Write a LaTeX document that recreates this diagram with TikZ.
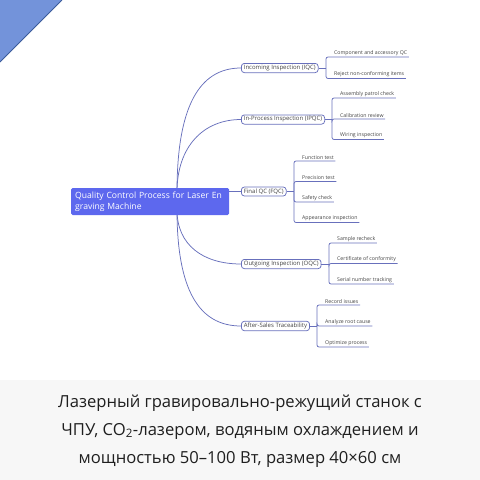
\documentclass[tikz,border=0pt]{standalone}
\usepackage{fontspec}
\setmainfont{Open Sans}
\usetikzlibrary{positioning,backgrounds}

\definecolor{mline}{HTML}{6870BC}
\definecolor{rootfill}{HTML}{5D68EE}
\definecolor{txt}{HTML}{444444}
\definecolor{capband}{HTML}{F7F7F7}
\definecolor{cornerfill}{HTML}{7393DA}
\definecolor{corneredge}{HTML}{3B5B9B}

\begin{document}
\begin{tikzpicture}[x=1pt,y=-1pt,
  rootbox/.style={fill=rootfill, rounded corners=1.5pt, text=white, align=left, anchor=west,
    text width=150pt, minimum height=27pt, inner xsep=4pt, font=\fontsize{8.6}{11}\selectfont},
  branch/.style={draw=mline, fill=white, rounded corners=3pt, line width=0.75pt, anchor=west,
    inner xsep=2.5pt, inner ysep=1.7pt, font=\fontsize{6}{6.5}\selectfont, text=txt},
  leaf/.style={anchor=south west, inner xsep=1.5pt, inner ysep=1.3pt,
    font=\fontsize{5.2}{6}\selectfont, text=txt},
  link/.style={draw=mline, line width=0.75pt},
  fork/.style={link, rounded corners=2pt}]
\useasboundingbox (0,0) rectangle (480,480);

% caption band and corner
\fill[capband] (0,380) rectangle (480,480);
\fill[cornerfill] (0,0) -- (62,0) -- (0,62) -- cycle;
\draw[corneredge, line width=1pt] (62,0) -- (0,62);

% root and main branches
\node[rootbox] (root) at (71,201.5) {Quality Control Process for Laser En graving Machine};
\coordinate (rt) at (177,192);
\coordinate (rb) at (177,210);

\node[branch] (iqc) at (241,68) {Incoming Inspection (IQC)};
\node[branch] (ipqc) at (241,119.5) {In-Process Inspection (IPQC)};
\node[branch] (fqc) at (241,191.5) {Final QC (FQC)};
\node[branch] (oqc) at (241,264) {Outgoing Inspection (OQC)};
\node[branch] (ast) at (241,326) {After-Sales Traceability};

% leaves
\node[leaf] (iqc1) at (332.5,57) {Component and accessory QC};
\node[leaf] (iqc2) at (332.5,78.5) {Reject non-conforming items};

\node[leaf] (ipqc1) at (338.5,98) {Assembly patrol check};
\node[leaf] (ipqc2) at (338.5,119) {Calibration review};
\node[leaf] (ipqc3) at (338.5,139.5) {Wiring inspection};

\node[leaf] (fqc1) at (300.5,161) {Function test};
\node[leaf] (fqc2) at (300.5,181.5) {Precision test};
\node[leaf] (fqc3) at (300.5,202) {Safety check};
\node[leaf] (fqc4) at (300.5,222.5) {Appearance inspection};

\node[leaf] (oqc1) at (335.5,243) {Sample recheck};
\node[leaf] (oqc2) at (335.5,263.5) {Certificate of conformity};
\node[leaf] (oqc3) at (335.5,284) {Serial number tracking};

\node[leaf] (ast1) at (323.5,305) {Record issues};
\node[leaf] (ast2) at (323.5,326) {Analyze root cause};
\node[leaf] (ast3) at (323.5,347) {Optimize process};

\coordinate (biqc) at (326,68);
\coordinate (bipqc) at (332,119.5);
\coordinate (bfqc) at (294,191.5);
\coordinate (boqc) at (329,264);
\coordinate (bast) at (317,326);

\begin{scope}[on background layer]
\draw[link] (rt) .. controls +(0,-85) and +(-42,0) .. (iqc.west);
\draw[link] (rt) .. controls +(0,-45) and +(-38,0) .. (ipqc.west);
\draw[link] (rt |- fqc) -- (fqc.west);
\draw[link] (rb) .. controls +(0,35) and +(-38,0) .. (oqc.west);
\draw[link] (rb) .. controls +(0,80) and +(-42,0) .. (ast.west);
\end{scope}

\draw[link] (iqc.east) -- (biqc);
\foreach \n in {iqc1,iqc2} \draw[fork] (biqc) |- (\n.south east);
\draw[link] (ipqc.east) -- (bipqc);
\foreach \n in {ipqc1,ipqc2,ipqc3} \draw[fork] (bipqc) |- (\n.south east);
\draw[link] (fqc.east) -- (bfqc);
\foreach \n in {fqc1,fqc2,fqc3,fqc4} \draw[fork] (bfqc) |- (\n.south east);
\draw[link] (oqc.east) -- (boqc);
\foreach \n in {oqc1,oqc2,oqc3} \draw[fork] (boqc) |- (\n.south east);
\draw[link] (ast.east) -- (bast);
\foreach \n in {ast1,ast2,ast3} \draw[fork] (bast) |- (\n.south east);

% caption
\node[align=center, text=black!88, font=\fontsize{16.6}{28}\selectfont] (cap) at (240,431)
  {Лазерный гравировально-режущий станок с\\
   ЧПУ, CO\textsubscript{2}-лазером, водяным охлаждением и\\
   мощностью 50–100 Вт, размер 40×60 см};
\end{tikzpicture}
\end{document}
